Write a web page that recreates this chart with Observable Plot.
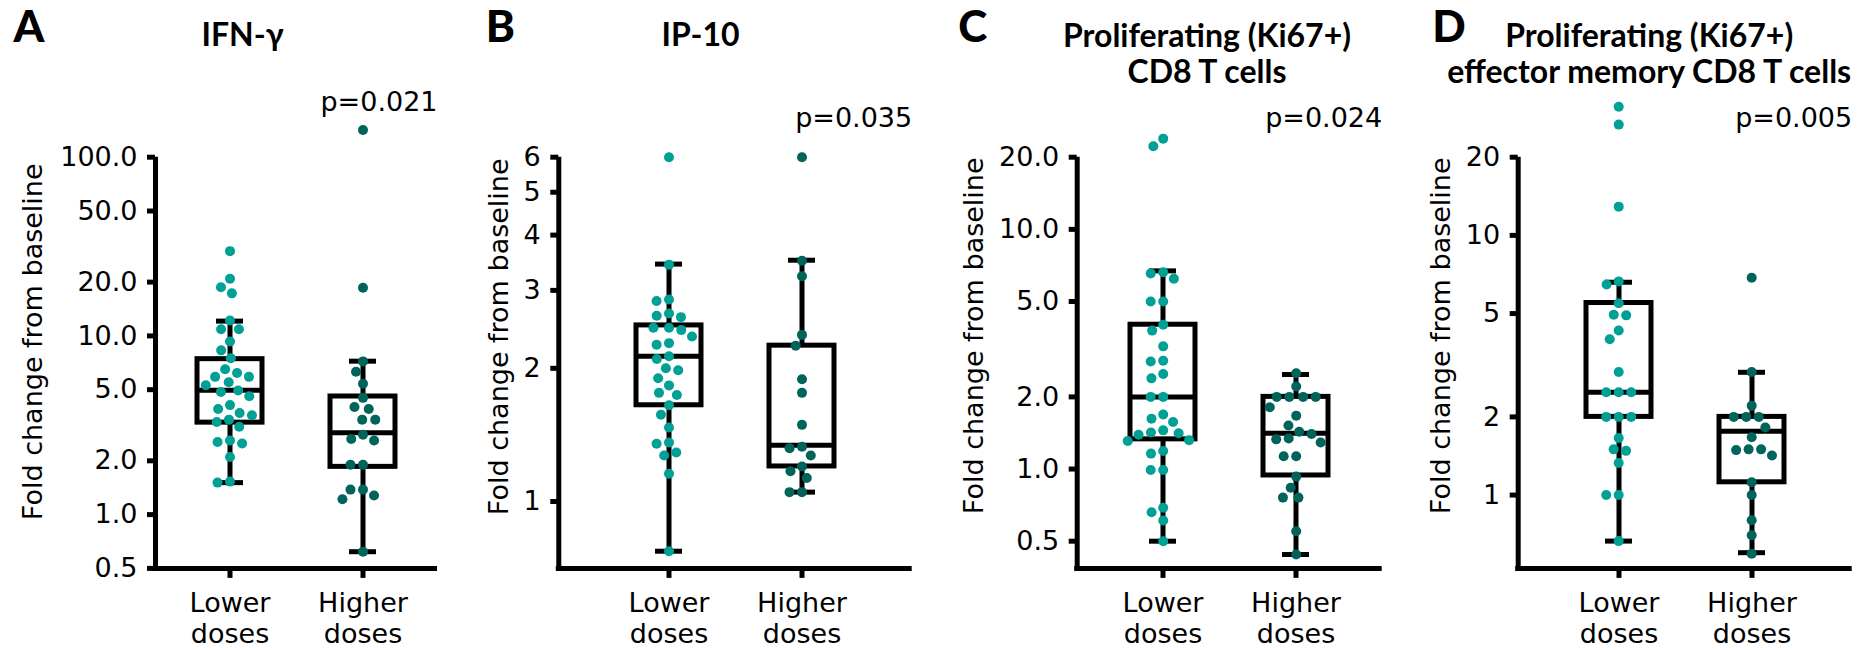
<!DOCTYPE html>
<html><head><meta charset="utf-8">
<script src="https://cdn.jsdelivr.net/npm/d3@7"></script>
<script src="https://cdn.jsdelivr.net/npm/@observablehq/plot@0.6"></script>
<style>
body{margin:0;background:#fff;}
#wrap{position:relative;width:1859px;height:650px;overflow:hidden;background:#fff;}
.panel{position:absolute;top:0;}
</style></head><body><div id="wrap"></div>
<script>
// ---------- DATA ----------
const groups = ["Lower doses", "Higher doses"];
const groupLabels = ["Lower\ndoses", "Higher\ndoses"];
const panelLetters = ["A", "B", "C", "D"];
const panelTitles = ["IFN-γ", "IP-10", "Proliferating (Ki67+)\nCD8 T cells", "Proliferating (Ki67+)\neffector memory CD8 T cells"];
const pValues = ["p=0.021", "p=0.035", "p=0.024", "p=0.005"];
const yLabel = "Fold change from baseline";
const yTicks = [[0.5, 1, 2, 5, 10, 20, 50, 100], [1, 2, 3, 4, 5, 6], [0.5, 1, 2, 5, 10, 20], [1, 2, 5, 10, 20]];
const yTickFormats = [".1f", "d", ".1f", "d"];
const yDomains = [[0.5, 100], [0.706, 6], [0.385, 20], [0.522, 20]];

// individual patients (fold change)
const ifnLower = [29.8, 20.9, 18.7, 17.3, 12.2, 10.9, 10.9, 9.3, 8.3, 7.5, 6.5, 6.2, 5.9, 5.9, 5.5, 5.3, 4.95, 4.85, 4.6, 4.1, 3.9, 3.7, 3.6, 3.4, 3.3, 3.1, 2.6, 2.55, 2.5, 2.1, 1.53, 1.51];
const ifnHigher = [142, 18.6, 7.2, 6.3, 5.4, 4.5, 4.0, 3.9, 3.4, 3.4, 2.8, 2.65, 2.6, 1.9, 1.9, 1.38, 1.38, 1.28, 1.22, 0.62];
const ip10Lower = [6.0, 3.43, 2.86, 2.84, 2.66, 2.63, 2.61, 2.47, 2.47, 2.44, 2.36, 2.28, 2.26, 2.13, 2.10, 2.00, 1.98, 1.90, 1.83, 1.76, 1.74, 1.65, 1.57, 1.47, 1.36, 1.35, 1.29, 1.27, 1.155, 0.772];
const ip10Higher = [6.0, 3.5, 3.23, 2.38, 2.25, 1.89, 1.76, 1.49, 1.33, 1.32, 1.27, 1.20, 1.17, 1.13, 1.05, 1.05];
const cd8Lower = [23.9, 22.2, 6.62, 6.55, 6.22, 5.0, 5.0, 4.0, 3.78, 3.25, 2.83, 2.81, 2.49, 2.39, 2.0, 2.0, 1.69, 1.62, 1.57, 1.45, 1.42, 1.41, 1.39, 1.32, 1.31, 1.19, 1.16, 0.99, 0.99, 0.69, 0.66, 0.61, 0.5];
const cd8Higher = [2.51, 2.21, 2.0, 2.0, 2.0, 2.0, 1.81, 1.67, 1.52, 1.43, 1.40, 1.34, 1.33, 1.29, 1.13, 1.13, 0.93, 0.835, 0.76, 0.76, 0.55, 0.44];
const emLower = [31.3, 26.7, 12.9, 6.65, 6.47, 5.48, 4.95, 4.92, 4.3, 3.98, 2.98, 2.49, 2.49, 2.49, 2.0, 2.0, 2.0, 1.66, 1.50, 1.48, 1.33, 1.0, 1.0, 0.665];
const emHigher = [6.87, 2.98, 2.21, 2.0, 2.0, 2.0, 1.82, 1.67, 1.50, 1.50, 1.49, 1.42, 1.12, 1.0, 0.80, 0.70, 0.595];

// box statistics: [whisker low, Q1, median, Q3, whisker high]
const ifnLowerBox = [1.51, 3.27, 4.97, 7.41, 12.1];
const ifnHigherBox = [0.62, 1.85, 2.87, 4.58, 7.22];
const ip10LowerBox = [0.772, 1.65, 2.13, 2.50, 3.44];
const ip10HigherBox = [1.05, 1.20, 1.34, 2.25, 3.51];
const cd8LowerBox = [0.5, 1.33, 2.0, 4.0, 6.71];
const cd8HigherBox = [0.44, 0.94, 1.41, 2.0, 2.48];
const emLowerBox = [0.665, 2.0, 2.49, 5.49, 6.6];
const emHigherBox = [0.60, 1.12, 1.76, 2.0, 2.97];

const seriesLower = [ifnLower, ip10Lower, cd8Lower, emLower];
const seriesHigher = [ifnHigher, ip10Higher, cd8Higher, emHigher];
const boxLower = [ifnLowerBox, ip10LowerBox, cd8LowerBox, emLowerBox];
const boxHigher = [ifnHigherBox, ip10HigherBox, cd8HigherBox, emHigherBox];

// ---------- LAYOUT / STYLE ----------
const lowColor = "#00a095";
const highColor = "#00645b";
const SW = 5;             // line width
const STEP = 133;         // distance between group centres
const BAND = 65;          // box width
const CAP = 27;           // whisker cap length
const R = 5;              // dot radius
const MT = 156.7, MB = 82.1, H = 650;
const layout = [
  {left: 0,    width: 465, ml: 155,   mr: 28,  titleDx: -54,  labDx: -122, labDy: -21, letDx: -142, pDy: -46.7},
  {left: 465,  width: 460, ml: 93.3,  mr: 13.3, titleDx: -35, labDx: -59,  labDy: -26, letDx: -73,  pDy: -30.3},
  {left: 925,  width: 465, ml: 151.7, mr: 8.3, titleDx: -22.7, labDx: -103, labDy: -27, letDx: -119, pDy: -30.3},
  {left: 1390, width: 469, ml: 127.7, mr: 7.3, titleDx: -36,  labDx: -77,  labDy: -27, letDx: -86,  pDy: -30.3}
];

const wrap = document.getElementById("wrap");

function makePanel(i) {
  const L = layout[i];
  const W = L.width - L.ml - L.mr;
  const pi = 1 - BAND / STEP;
  const po = (W / STEP - 2 + pi) / 2;
  const fmt = d3.format(yTickFormats[i]);
  const boxes = groups.map((g, j) => {
    const b = (j === 0 ? boxLower : boxHigher)[i];
    return {g, lo: b[0], q1: b[1], med: b[2], q3: b[3], hi: b[4]};
  });
  const lowPts = seriesLower[i].map(v => ({g: groups[0], v}));
  const highPts = seriesHigher[i].map(v => ({g: groups[1], v}));
  const twoLine = panelTitles[i].includes("\n");
  const capInset = (BAND - CAP) / 2;

  const chart = Plot.plot({
    width: L.width, height: H,
    marginLeft: L.ml, marginRight: L.mr, marginTop: MT, marginBottom: MB,
    style: {fontFamily: "DejaVu Sans", fontSize: "27px", color: "black", background: "white", overflow: "visible"},
    x: {type: "band", domain: groups, paddingInner: pi, paddingOuter: po, align: 0.5},
    y: {type: "log", domain: yDomains[i]},
    marks: [
      // axis lines
      Plot.ruleY([yDomains[i][0]], {stroke: "black", strokeWidth: SW, insetLeft: -SW / 2}),
      Plot.ruleX([0], {x: null, dx: -W / 2, stroke: "black", strokeWidth: SW, insetBottom: -SW / 2}),
      Plot.axisY({ticks: yTicks[i], tickFormat: () => "", tickSize: 8, strokeWidth: SW, label: null}),
      Plot.text(yTicks[i], {y: d => d, text: d => fmt(d), frameAnchor: "left", textAnchor: "end", dx: -18, fontSize: 27}),
      Plot.axisX({tickSize: 10, strokeWidth: SW, tickFormat: () => "", label: null}),
      Plot.text(groups, {x: d => d, text: (d, j) => groupLabels[j], frameAnchor: "bottom", lineAnchor: "top", dy: 21.7, lineHeight: 1.15, fontSize: 27}),
      // box plots
      Plot.ruleX(boxes, {x: "g", y1: "lo", y2: "hi", stroke: "black", strokeWidth: SW}),
      Plot.barY(boxes, {x: "g", y1: "q1", y2: "q3", fill: "white", stroke: "black", strokeWidth: SW}),
      Plot.tickY(boxes, {x: "g", y: "med", stroke: "black", strokeWidth: SW}),
      Plot.tickY(boxes, {x: "g", y: "lo", stroke: "black", strokeWidth: SW, insetLeft: capInset, insetRight: capInset}),
      Plot.tickY(boxes, {x: "g", y: "hi", stroke: "black", strokeWidth: SW, insetLeft: capInset, insetRight: capInset}),
      // points (dodge positions from the frame middle; band offset compensated)
      Plot.dot(lowPts, Plot.dodgeX({anchor: "middle", padding: 2.5, y: "v", r: R, fill: lowColor, dx: -STEP / 2 - BAND / 2})),
      Plot.dot(highPts, Plot.dodgeX({anchor: "middle", padding: 2.5, y: "v", r: R, fill: highColor, dx: STEP / 2 - BAND / 2})),
      // labels
      Plot.text([yLabel], {frameAnchor: "left", textAnchor: "middle", rotate: -90, dx: L.labDx, dy: L.labDy, fontSize: 27}),
      Plot.text([pValues[i]], {frameAnchor: "top-right", textAnchor: "end", lineAnchor: "bottom", dy: L.pDy, fontSize: 27}),
      Plot.text([panelTitles[i]], {frameAnchor: "top", textAnchor: "middle", lineAnchor: "bottom", lineHeight: 1.125, dx: L.titleDx, dy: twoLine ? 82 - MT : 45 - MT, fontFamily: "Lato", fontWeight: "bold", fontSize: 32}),
      Plot.text([panelLetters[i]], {frameAnchor: "top-left", textAnchor: "start", lineAnchor: "bottom", dx: L.letDx, dy: 41.7 - MT, fontFamily: "Lato", fontWeight: 900, fontSize: 44})
    ]
  });
  const div = document.createElement("div");
  div.className = "panel";
  div.style.left = L.left + "px";
  div.style.width = L.width + "px";
  div.appendChild(chart);
  wrap.appendChild(div);
}
[0, 1, 2, 3].forEach(makePanel);
</script></body></html>
